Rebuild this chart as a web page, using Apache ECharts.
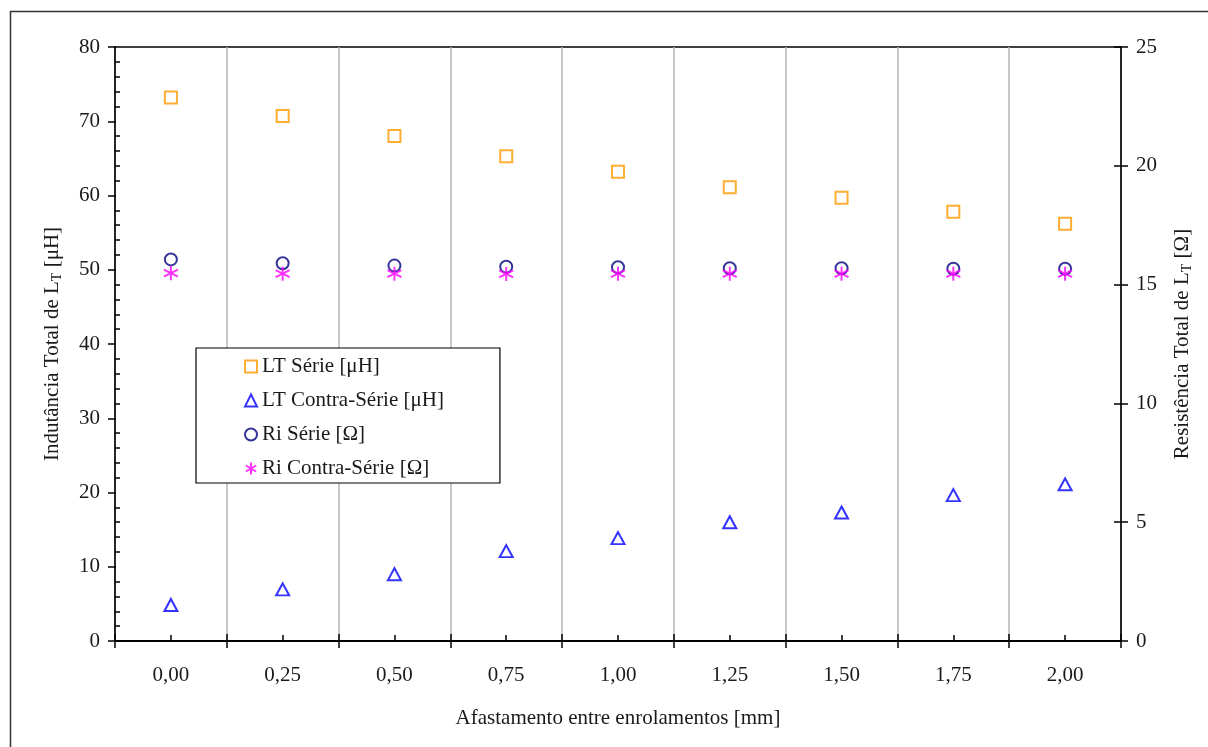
<!DOCTYPE html>
<html>
<head>
<meta charset="utf-8">
<script src="https://cdn.jsdelivr.net/npm/echarts@6/dist/echarts.min.js"></script>
<style>
html,body{margin:0;padding:0;background:#fff;}
#chart{width:1208px;height:747px;}
</style>
</head>
<body>
<div id="chart"></div>
<script>
const categories = ['0,00','0,25','0,50','0,75','1,00','1,25','1,50','1,75','2,00'];
const ltSerie = [73.2, 70.7, 68.0, 65.3, 63.2, 61.1, 59.7, 57.8, 56.2];
const ltContraSerie = [4.85, 6.95, 9.0, 12.1, 13.85, 16.0, 17.3, 19.65, 21.1];
const riSerie = [16.06, 15.9, 15.8, 15.75, 15.73, 15.69, 15.69, 15.67, 15.67];
const riContraSerie = [15.48, 15.46, 15.46, 15.45, 15.46, 15.46, 15.46, 15.46, 15.46];
const seriesNames = ['LT Série [μH]', 'LT Contra-Série [μH]', 'Ri Série [Ω]', 'Ri Contra-Série [Ω]'];

const FONT = '"Liberation Serif", "DejaVu Serif", serif';
const FS = 21;
const TXT = '#1a1a1a';
const chart = echarts.init(document.getElementById('chart'), null, {renderer: 'canvas'});

const hollow = c => ({color: 'rgba(0,0,0,0)', borderColor: c, borderWidth: 2});
const asterisk = 'path://M5,0 L5,10 M0.7,2.5 L9.3,7.5 M0.7,7.5 L9.3,2.5';

const baseX = {
  type: 'category', data: categories, position: 'bottom', boundaryGap: true,
  axisLine: {show: true, lineStyle: {color: '#000', width: 1.5}}
};

const option = {
  backgroundColor: '#fff',
  animation: false,
  textStyle: {fontFamily: FONT, color: TXT},
  graphic: [{
    type: 'rect', left: 8, top: 9, silent: true,
    shape: {width: 1300, height: 800},
    style: {fill: 'none', stroke: '#333', lineWidth: 1.5}
  }],
  grid: {left: 115, right: 87, top: 47, bottom: 106, show: true, borderColor: '#000', borderWidth: 1.5, backgroundColor: 'transparent'},
  legend: {
    orient: 'vertical', left: 196, top: 348,
    padding: [8, 56, 4, 48],
    itemWidth: 12, itemHeight: 12, itemGap: 13,
    backgroundColor: '#fff', borderColor: '#000', borderWidth: 1.2,
    textStyle: {fontFamily: FONT, fontSize: FS, color: TXT},
    data: seriesNames
  },
  xAxis: [
    Object.assign({}, baseX, {
      axisTick: {show: true, inside: false, length: 7, lineStyle: {color: '#000', width: 1.5}},
      axisLabel: {fontFamily: FONT, fontSize: FS, color: TXT, margin: 24},
      splitLine: {show: true, lineStyle: {color: '#b4b4b4', width: 1.5}},
      name: 'Afastamento entre enrolamentos [mm]', nameLocation: 'middle', nameGap: 67,
      nameTextStyle: {fontFamily: FONT, fontSize: FS, color: TXT}
    }),
    Object.assign({}, baseX, {
      axisTick: {show: true, inside: true, length: 7, lineStyle: {color: '#000', width: 1.5}},
      axisLabel: {show: false}, splitLine: {show: false}
    }),
    Object.assign({}, baseX, {
      axisTick: {show: true, inside: true, alignWithLabel: true, length: 6, lineStyle: {color: '#000', width: 1.5}},
      axisLabel: {show: false}, splitLine: {show: false}
    })
  ],
  yAxis: [
    {
      type: 'value', position: 'left', min: 0, max: 80, interval: 10,
      axisLine: {show: true, lineStyle: {color: '#000', width: 1.5}},
      axisTick: {show: true, inside: false, length: 7, lineStyle: {color: '#000', width: 1.5}},
      axisLabel: {fontFamily: FONT, fontSize: FS, color: TXT, margin: 15},
      splitLine: {show: false},
      name: 'Indutância Total de L{sub|T} [μH]', nameLocation: 'middle', nameGap: 51, nameRotate: 90,
      nameTextStyle: {fontFamily: FONT, fontSize: FS, color: TXT,
        rich: {sub: {fontFamily: FONT, fontSize: 14, color: TXT, padding: [9, 0, 0, 0]}}}
    },
    {
      type: 'value', position: 'left', min: 0, max: 80, interval: 10,
      axisLine: {show: false},
      axisTick: {show: true, inside: true, length: 1, lineStyle: {color: '#000', width: 1.5}},
      minorTick: {show: true, splitNumber: 5, length: 5, lineStyle: {color: '#000', width: 1.5}},
      axisLabel: {show: false}, splitLine: {show: false}
    },
    {
      type: 'value', position: 'right', min: 0, max: 25, interval: 5,
      axisLine: {show: true, lineStyle: {color: '#000', width: 1.5}},
      axisTick: {show: true, inside: false, length: 7, lineStyle: {color: '#000', width: 1.5}},
      axisLabel: {fontFamily: FONT, fontSize: FS, color: TXT, margin: 15},
      splitLine: {show: false},
      name: 'Resistência Total de L{sub|T} [Ω]', nameLocation: 'middle', nameGap: 50, nameRotate: 90,
      nameTextStyle: {fontFamily: FONT, fontSize: FS, color: TXT,
        rich: {sub: {fontFamily: FONT, fontSize: 14, color: TXT, padding: [9, 0, 0, 0]}}}
    },
    {
      type: 'value', position: 'right', min: 0, max: 25, interval: 5,
      axisLine: {show: false},
      axisTick: {show: true, inside: true, length: 7, lineStyle: {color: '#000', width: 1.5}},
      axisLabel: {show: false}, splitLine: {show: false}
    }
  ],
  series: [
    {name: seriesNames[0], type: 'scatter', xAxisIndex: 0, yAxisIndex: 0, data: ltSerie,
     symbol: 'rect', symbolSize: 12, itemStyle: hollow('#FF9900')},
    {name: seriesNames[1], type: 'scatter', xAxisIndex: 0, yAxisIndex: 0, data: ltContraSerie,
     symbol: 'triangle', symbolSize: [13, 12], itemStyle: hollow('#0000FF')},
    {name: seriesNames[2], type: 'scatter', xAxisIndex: 0, yAxisIndex: 2, data: riSerie,
     symbol: 'circle', symbolSize: 12, itemStyle: hollow('#000080')},
    {name: seriesNames[3], type: 'scatter', xAxisIndex: 0, yAxisIndex: 2, data: riContraSerie,
     symbol: asterisk, symbolSize: 14, itemStyle: hollow('#FF00FF')}
  ]
};
chart.setOption(option);
</script>
</body>
</html>
